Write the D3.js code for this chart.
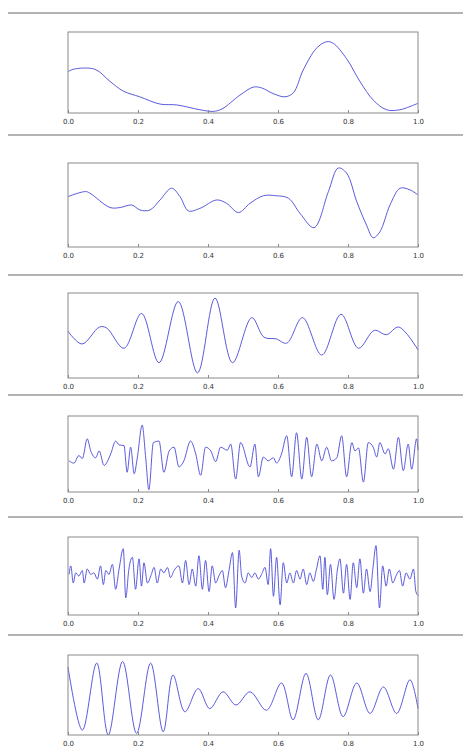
<!DOCTYPE html>
<html>
<head>
<meta charset="utf-8">
<script src="https://cdn.jsdelivr.net/npm/d3@7"></script>
<style>
  body { margin: 0; background: #fff; }
  svg { display: block; }
  .tick text { font-family: "DejaVu Sans", sans-serif; font-size: 7px; fill: #333; }
</style>
</head>
<body>
<div id="chart"></div>
<script>
// x tick values shared by every panel
var tickValues = [0, 0.2, 0.4, 0.6, 0.8, 1.0];

// panel 1 - slow wave
var p1X = [0, 0.015, 0.077, 0.12, 0.158, 0.205, 0.263, 0.31, 0.377, 0.415, 0.44, 0.491, 0.53, 0.553,
           0.586, 0.62, 0.644, 0.672, 0.71, 0.739, 0.758, 0.796, 0.834, 0.872, 0.91, 0.948, 0.977, 1.0];
var p1Y = [0.51, 0.54, 0.54, 0.39, 0.27, 0.20, 0.11, 0.10, 0.04, 0.02, 0.05, 0.22, 0.32, 0.31,
           0.24, 0.20, 0.25, 0.53, 0.80, 0.88, 0.86, 0.67, 0.39, 0.16, 0.04, 0.04, 0.08, 0.12];

// panel 2
var p2X = [0, 0.05, 0.063, 0.12, 0.149, 0.182, 0.206, 0.234, 0.263, 0.296, 0.32, 0.344, 0.377, 0.425,
           0.453, 0.487, 0.52, 0.558, 0.596, 0.63, 0.663, 0.703, 0.744, 0.772, 0.796, 0.825, 0.853,
           0.872, 0.891, 0.92, 0.949, 0.977, 1.0];
var p2Y = [0.60, 0.66, 0.64, 0.47, 0.47, 0.50, 0.44, 0.44, 0.56, 0.70, 0.60, 0.43, 0.46, 0.56,
           0.52, 0.41, 0.52, 0.61, 0.61, 0.58, 0.40, 0.23, 0.66, 0.94, 0.88, 0.54, 0.26,
           0.11, 0.18, 0.50, 0.70, 0.68, 0.62];

// panel 3
var p3X = [0, 0.04, 0.09, 0.11, 0.16, 0.21, 0.26, 0.315, 0.37, 0.42, 0.47, 0.525, 0.56, 0.595,
           0.625, 0.67, 0.725, 0.78, 0.83, 0.875, 0.91, 0.945, 1.0];
var p3Y = [0.55, 0.40, 0.60, 0.59, 0.35, 0.76, 0.18, 0.90, 0.06, 0.94, 0.18, 0.71, 0.48, 0.46,
           0.41, 0.71, 0.27, 0.75, 0.35, 0.56, 0.51, 0.60, 0.33];

// panel 4
var p4X = [0.003, 0.017, 0.031, 0.041, 0.055, 0.065, 0.079, 0.089, 0.103, 0.122, 0.136, 0.146, 0.16,
           0.169, 0.179, 0.189, 0.198, 0.212, 0.222, 0.231, 0.244, 0.26, 0.274, 0.289, 0.303, 0.317,
           0.331, 0.35, 0.365, 0.379, 0.393, 0.408, 0.422, 0.436, 0.455, 0.465, 0.479, 0.493, 0.52,
           0.534, 0.544, 0.558, 0.572, 0.587, 0.596, 0.61, 0.625, 0.639, 0.653, 0.668, 0.682, 0.696,
           0.711, 0.725, 0.739, 0.753, 0.768, 0.782, 0.796, 0.811, 0.82, 0.83, 0.844, 0.858, 0.872,
           0.882, 0.891, 0.906, 0.915, 0.93, 0.944, 0.958, 0.972, 0.982, 0.996, 1.0];
var p4Y = [0.41, 0.38, 0.48, 0.44, 0.70, 0.54, 0.45, 0.54, 0.35, 0.50, 0.67, 0.62, 0.61,
           0.26, 0.59, 0.24, 0.45, 0.88, 0.45, 0.03, 0.65, 0.67, 0.26, 0.54, 0.59, 0.33,
           0.41, 0.67, 0.50, 0.22, 0.59, 0.54, 0.40, 0.59, 0.55, 0.63, 0.17, 0.65, 0.33,
           0.63, 0.20, 0.46, 0.41, 0.45, 0.38, 0.50, 0.74, 0.20, 0.78, 0.17, 0.72, 0.20,
           0.63, 0.41, 0.59, 0.41, 0.45, 0.74, 0.20, 0.65, 0.54, 0.58, 0.13, 0.65, 0.59,
           0.46, 0.65, 0.50, 0.57, 0.30, 0.72, 0.28, 0.63, 0.30, 0.70, 0.55];

// panel 5 - noisy
var p5X = [0.003, 0.008, 0.015, 0.022, 0.031, 0.041, 0.046, 0.055, 0.065, 0.074, 0.084, 0.093, 0.101,
           0.108, 0.117, 0.127, 0.136, 0.146, 0.158, 0.165, 0.174, 0.184, 0.193, 0.203, 0.21, 0.217,
           0.227, 0.238, 0.246, 0.255, 0.265, 0.274, 0.284, 0.293, 0.303, 0.317, 0.327, 0.336, 0.346,
           0.355, 0.365, 0.374, 0.384, 0.393, 0.403, 0.412, 0.422, 0.431, 0.441, 0.45, 0.46, 0.47,
           0.479, 0.489, 0.496, 0.506, 0.515, 0.525, 0.534, 0.544, 0.553, 0.563, 0.572, 0.579, 0.587,
           0.596, 0.606, 0.615, 0.625, 0.634, 0.644, 0.653, 0.663, 0.672, 0.682, 0.691, 0.701, 0.71,
           0.72, 0.728, 0.734, 0.741, 0.75, 0.76, 0.77, 0.777, 0.787, 0.796, 0.806, 0.815, 0.825,
           0.834, 0.844, 0.853, 0.863, 0.872, 0.88, 0.89, 0.899, 0.909, 0.918, 0.928, 0.937, 0.947,
           0.956, 0.966, 0.977, 0.987, 0.994, 1.0];
var p5Y = [0.52, 0.63, 0.41, 0.54, 0.50, 0.57, 0.41, 0.59, 0.52, 0.54, 0.46, 0.63, 0.39,
           0.57, 0.52, 0.65, 0.33, 0.59, 0.85, 0.22, 0.59, 0.74, 0.33, 0.72, 0.37, 0.67,
           0.41, 0.52, 0.61, 0.41, 0.59, 0.54, 0.61, 0.48, 0.57, 0.63, 0.41, 0.70, 0.39,
           0.59, 0.37, 0.76, 0.33, 0.70, 0.30, 0.63, 0.41, 0.50, 0.57, 0.35, 0.57, 0.80,
           0.09, 0.83, 0.50, 0.41, 0.54, 0.48, 0.54, 0.46, 0.52, 0.61, 0.39, 0.85, 0.24,
           0.74, 0.13, 0.67, 0.41, 0.54, 0.41, 0.57, 0.46, 0.59, 0.39, 0.54, 0.43, 0.59,
           0.76, 0.33, 0.74, 0.26, 0.65, 0.20, 0.59, 0.72, 0.28, 0.65, 0.20, 0.67, 0.35,
           0.72, 0.28, 0.59, 0.30, 0.63, 0.89, 0.09, 0.63, 0.37, 0.59, 0.41, 0.50, 0.57,
           0.37, 0.54, 0.46, 0.59, 0.30, 0.25];

// panel 6
var p6X = [0, 0.041, 0.082, 0.115, 0.156, 0.196, 0.236, 0.272, 0.30, 0.334, 0.372, 0.405, 0.443, 0.48,
           0.52, 0.567, 0.61, 0.643, 0.68, 0.715, 0.75, 0.786, 0.825, 0.863, 0.901, 0.939, 0.977, 1.0];
var p6Y = [0.85, 0.06, 0.90, 0.0, 0.92, 0.02, 0.90, 0.04, 0.75, 0.29, 0.58, 0.33, 0.54, 0.375,
           0.54, 0.31, 0.65, 0.19, 0.77, 0.19, 0.75, 0.23, 0.65, 0.27, 0.60, 0.27, 0.69, 0.33];

var seriesX = [p1X, p2X, p3X, p4X, p5X, p6X];
var seriesY = [p1Y, p2Y, p3Y, p4Y, p5Y, p6Y];

// layout of the stacked panels (boxes + separator lines)
var width = 463, height = 751;
var boxLeft = 68, boxRight = 418;
var boxTops = [32, 163, 293, 416, 537, 655];
var boxBottoms = [113, 247, 378, 492, 615, 735];
var separators = [13, 135, 275, 395, 517, 635];

var svg = d3.select("#chart").append("svg")
    .attr("width", width)
    .attr("height", height);

// grey rules between the stacked figures
svg.selectAll(".sep")
    .data(separators)
    .enter().append("line")
    .attr("class", "sep")
    .attr("x1", 8).attr("x2", width)
    .attr("y1", function(d) { return d; })
    .attr("y2", function(d) { return d; })
    .style("stroke", "#9a9a9a")
    .style("stroke-width", 1.5);

var x = d3.scaleLinear().domain([0, 1]).range([boxLeft, boxRight]);

seriesY.forEach(function(ys, i) {
  var y = d3.scaleLinear().domain([0, 1]).range([boxBottoms[i], boxTops[i]]);
  var g = svg.append("g").attr("class", "panel");

  var pts = ys.map(function(v, j) { return [seriesX[i][j], v]; });

  // smooth curve for the slow waves, monotone for the busy ones
  var curve = (i === 3 || i === 4) ? d3.curveMonotoneX : d3.curveCatmullRom;

  var line = d3.line()
      .x(function(d) { return x(d[0]); })
      .y(function(d) { return y(d[1]); })
      .curve(curve);

  g.append("path")
    .datum(pts)
    .attr("d", line)
    .style("fill", "none")
    .style("stroke", "#4848d8")
    .style("stroke-width", 0.9);

  // frame
  g.append("rect")
    .attr("x", boxLeft).attr("y", boxTops[i])
    .attr("width", boxRight - boxLeft)
    .attr("height", boxBottoms[i] - boxTops[i])
    .style("fill", "none")
    .style("stroke", "#8a8a8a")
    .style("stroke-width", 1);

  // x axis labels only, ticks point inward
  var axis = d3.axisBottom(x)
      .tickValues(tickValues)
      .tickFormat(d3.format(".1f"))
      .tickSize(-3)
      .tickPadding(6);

  g.append("g")
    .attr("transform", "translate(0," + boxBottoms[i] + ")")
    .call(axis)
    .call(function(a) { a.select(".domain").remove(); })
    .call(function(a) { a.selectAll(".tick line").style("stroke", "#8a8a8a"); });
});
</script>
</body>
</html>
